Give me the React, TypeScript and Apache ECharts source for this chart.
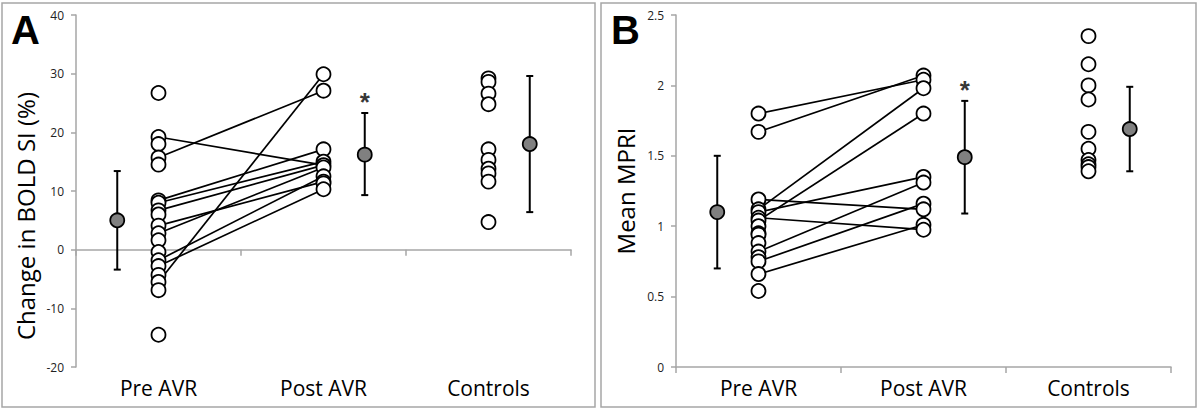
import React, { useEffect, useRef } from "react";
import * as echarts from "echarts";

const categories = ["Pre AVR", "Post AVR", "Controls"];
const catX = [1, 2, 3];
const meanX = [0.75, 2.25, 3.25];

// Panel A: Change in BOLD SI (%)
const aPre = [26.7, 19.2, 18.0, 15.7, 14.5, 8.4, 8.0, 6.7, 6.0, 4.1, 2.8, 1.6, -0.4, -1.8, -2.8, -4.3, -5.5, -6.9, -14.5];
const aPost = [29.9, 27.1, 17.1, 15.0, 14.4, 14.0, 12.5, 11.6, 11.3, 10.3];
const aControls = [29.2, 28.6, 26.6, 24.8, 17.1, 15.3, 13.8, 13.0, 11.6, 4.7];
const aPairs: [number, number][] = [
  [19.2, 14.4], [15.7, 27.1], [8.4, 17.1], [8.0, 15.0], [6.7, 14.4],
  [4.1, 11.6], [2.8, 14.0], [-1.8, 12.5], [-2.8, 10.3], [-5.5, 29.9],
];
const aMeans = [5.0, 16.2, 18.0];
const aLow = [-3.4, 9.3, 6.4];
const aHigh = [13.4, 23.3, 29.6];
const aSignif = [false, true, false];

// Panel B: Mean MPRI
const bPre = [1.80, 1.67, 1.19, 1.12, 1.10, 1.06, 1.04, 1.00, 0.95, 0.94, 0.88, 0.82, 0.78, 0.75, 0.66, 0.54];
const bPost = [2.07, 2.04, 1.98, 1.80, 1.35, 1.31, 1.16, 1.12, 1.01, 0.975];
const bControls = [2.35, 2.15, 2.0, 1.9, 1.67, 1.55, 1.47, 1.44, 1.42, 1.39];
const bPairs: [number, number][] = [
  [1.80, 2.04], [1.67, 2.07], [1.19, 1.12], [1.12, 1.98], [1.10, 1.35],
  [1.04, 1.80], [1.06, 0.975], [0.82, 1.31], [0.75, 1.16], [0.66, 1.01],
];
const bMeans = [1.10, 1.49, 1.69];
const bLow = [0.70, 1.09, 1.39];
const bHigh = [1.50, 1.89, 1.99];
const bSignif = [false, true, false];

const FONT = "Open Sans";

function panelSeries(
  idx: number,
  pre: number[], post: number[], controls: number[],
  pairs: [number, number][], means: number[], low: number[], high: number[], signif: boolean[]
): any[] {
  const xAxisIndex = idx * 2 + 1;
  const yAxisIndex = idx;
  const out: any[] = [];
  pairs.forEach((p) => {
    out.push({
      type: "line",
      xAxisIndex, yAxisIndex,
      data: [[catX[0], p[0]], [catX[1], p[1]]],
      symbol: "none",
      lineStyle: { color: "#000", width: 1.7 },
      z: 2, silent: true,
    });
  });
  const pts: number[][] = [];
  pre.forEach((v) => pts.push([catX[0], v]));
  post.forEach((v) => pts.push([catX[1], v]));
  controls.forEach((v) => pts.push([catX[2], v]));
  out.push({
    type: "scatter", xAxisIndex, yAxisIndex,
    data: pts, symbol: "circle", symbolSize: 14,
    itemStyle: { color: "#fff", borderColor: "#000", borderWidth: 1.8, opacity: 1 },
    z: 5, silent: true,
  });
  out.push({
    type: "custom", xAxisIndex, yAxisIndex,
    data: means.map((m, i) => [meanX[i], m, low[i], high[i]]),
    encode: { x: 0, y: [1, 2, 3] },
    renderItem: (_params: any, api: any) => {
      const x = api.value(0);
      const lo = api.coord([x, api.value(2)]);
      const hi = api.coord([x, api.value(3)]);
      const w = 3.5;
      const st = { stroke: "#000", lineWidth: 2 };
      return {
        type: "group",
        children: [
          { type: "line", shape: { x1: lo[0], y1: lo[1], x2: hi[0], y2: hi[1] }, style: st },
          { type: "line", shape: { x1: lo[0] - w, y1: lo[1], x2: lo[0] + w, y2: lo[1] }, style: st },
          { type: "line", shape: { x1: hi[0] - w, y1: hi[1], x2: hi[0] + w, y2: hi[1] }, style: st },
        ],
      };
    },
    z: 4, silent: true,
  });
  out.push({
    type: "scatter", xAxisIndex, yAxisIndex,
    data: means.map((m, i) => [meanX[i], m]),
    symbol: "circle", symbolSize: 14,
    itemStyle: { color: "#808080", borderColor: "#000", borderWidth: 1.8, opacity: 1 },
    z: 6, silent: true,
  });
  out.push({
    type: "scatter", xAxisIndex, yAxisIndex,
    data: means.map((_m, i) => [meanX[i], high[i]]).filter((_d, i) => signif[i]),
    symbolSize: 0,
    label: {
      show: true, position: "top", distance: -2, formatter: "*",
      fontSize: 26, fontWeight: "bold", color: "#000", fontFamily: "Liberation Sans",
    },
    z: 6, silent: true,
  });
  return out;
}

export default function App() {
  const ref = useRef<HTMLDivElement>(null);
  useEffect(() => {
    if (!ref.current) return;
    const chart = echarts.init(ref.current, undefined, { renderer: "svg" });
    const axisGray = "#a6a6a6";
    const catAxis = (gridIndex: number) => ({
      type: "category", gridIndex, data: categories, boundaryGap: true,
      axisLine: { lineStyle: { color: axisGray, width: 1.5 } },
      axisTick: { show: true, length: 6, lineStyle: { color: axisGray, width: 1.5 } },
      axisLabel: { fontSize: 21, color: "#000", fontFamily: FONT, margin: 10 },
    });
    const valX = (gridIndex: number) => ({
      type: "value", gridIndex, min: 0.5, max: 3.5, show: false,
    });
    const yAx = (gridIndex: number, min: number, max: number, interval: number, name: string, shift: number) => ({
      type: "value", gridIndex, min, max, interval,
      name, nameLocation: "middle", nameGap: 39, nameRotate: 90,
      nameTextStyle: { fontSize: 24, color: "#000", fontFamily: FONT, padding: [0, shift, 0, 0] },
      axisLine: { show: true, lineStyle: { color: axisGray, width: 1.5 } },
      axisTick: { show: true, length: 5, lineStyle: { color: axisGray, width: 1.5 } },
      axisLabel: { fontSize: 12, color: "#222", fontFamily: FONT, margin: 12 },
      splitLine: { show: false },
    });
    const option: any = {
      animation: false,
      backgroundColor: "#fff",
      grid: [
        { left: 76, top: 15, width: 495, height: 352 },
        { left: 676, top: 15, width: 495, height: 352 },
      ],
      xAxis: [catAxis(0), valX(0), catAxis(1), valX(1)],
      yAxis: [
        yAx(0, -20, 40, 10, "Change in BOLD SI (%)", 50),
        yAx(1, 0, 2.5, 0.5, "Mean MPRI", 0),
      ],
      graphic: [
        { type: "rect", shape: { x: 2, y: 3, width: 593, height: 404 }, style: { fill: "none", stroke: "#a6a6a6", lineWidth: 1.5 }, silent: true },
        { type: "rect", shape: { x: 601, y: 3, width: 595, height: 404 }, style: { fill: "none", stroke: "#a6a6a6", lineWidth: 1.5 }, silent: true },
        { type: "text", left: 11, top: 10, style: { text: "A", fontSize: 40, fontWeight: "bold", fill: "#000", fontFamily: "Liberation Sans" } },
        { type: "text", left: 611, top: 10, style: { text: "B", fontSize: 40, fontWeight: "bold", fill: "#000", fontFamily: "Liberation Sans" } },
      ],
      series: [
        ...panelSeries(0, aPre, aPost, aControls, aPairs, aMeans, aLow, aHigh, aSignif),
        ...panelSeries(1, bPre, bPost, bControls, bPairs, bMeans, bLow, bHigh, bSignif),
      ],
    };
    chart.setOption(option);
    return () => chart.dispose();
  }, []);
  return (
    <div
      ref={ref}
      style={{ position: "absolute", left: 0, top: 0, width: 1200, height: 410 }}
    />
  );
}
